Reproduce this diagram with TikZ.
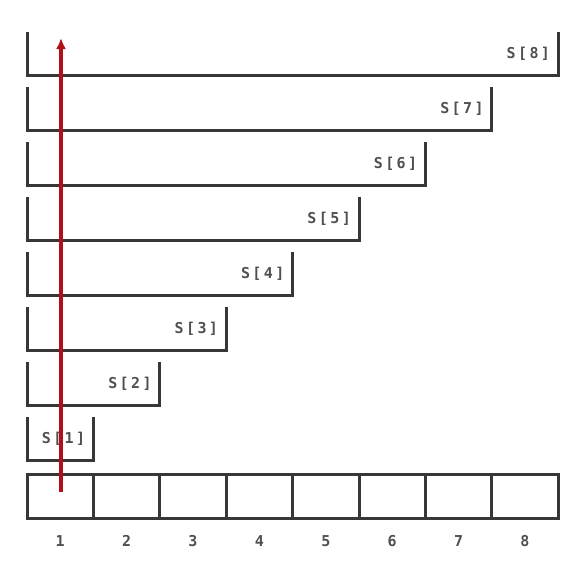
\documentclass[tikz,border=0pt]{standalone}
\usepackage{fontspec}
\usepackage{tikz}
\usepackage{xcolor}
\usetikzlibrary{positioning,arrows.meta}
\newfontfamily\slotfont[LetterSpace=16]{DejaVu Sans Mono}
\newfontfamily\indexfont{DejaVu Sans Mono}
\definecolor{linegray}{RGB}{55,55,55}
\definecolor{textgray}{RGB}{80,80,80}
\definecolor{arrowred}{RGB}{178,16,24}

\begin{document}
\begin{tikzpicture}[x=1pt,y=-1pt]
	\tikzstyle{cell}=[draw=linegray,line width=3pt,minimum width=66.4pt,minimum height=44pt,inner sep=0pt]
	\tikzstyle{bracket}=[draw=linegray,line width=3pt]
	\tikzstyle{slot}=[text=textgray,font=\slotfont\bfseries\fontsize{15}{17}\selectfont,anchor=east,inner sep=0pt]
	\tikzstyle{index}=[text=textgray,font=\indexfont\bfseries\fontsize{15}{17}\selectfont]
	\useasboundingbox (0,0) rectangle (570,566);

	% array cells and their numbers
	\foreach \i in {1,...,8}{
	 \node [cell] (c\i) at ({27+66.4*(\i-0.5)},496) {};
	 \node [index] (n\i) at ({27+66.4*(\i-0.5)},541) {\i};
	}

	% one bracket per S[k]
	\foreach \k in {1,...,8}{
	 \path[bracket] (27,{417-55*(\k-1)}) -- (27,{460-55*(\k-1)})
	   -- ({27+66.4*\k},{460-55*(\k-1)}) -- ({27+66.4*\k},{417-55*(\k-1)});
	 \node [slot] (s\k) at ({27+66.4*\k-8},{439-55*(\k-1)}) {S[\k]};
	}

	\coordinate (start) at (61,492);
	\coordinate (top) at (61,38);
	\path[draw=arrowred,line width=3.4pt,-{Latex[length=11pt,width=10pt]}] (start) -- (top);
\end{tikzpicture}
\end{document}
